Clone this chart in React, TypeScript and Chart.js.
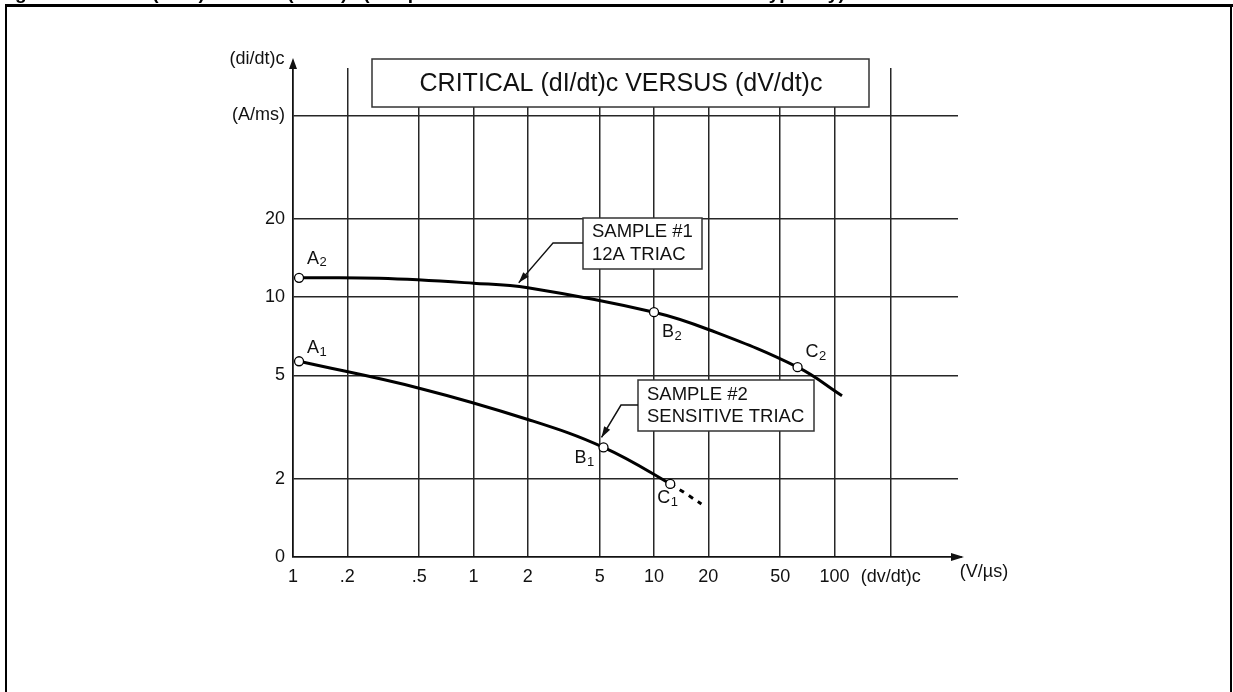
import React, { useEffect, useRef } from "react";
import { Chart, registerables } from "chart.js";
Chart.register(...registerables);

// ---- data ----
const xTickValues = [0.1, 0.2, 0.5, 1, 2, 5, 10, 20, 50, 100, 205];
const xTickLabels = ["1", ".2", ".5", "1", "2", "5", "10", "20", "50", "100", "(dv/dt)c"];
const yTickValues = [1, 2, 5, 10, 20, 50];
const yTickLabels = ["0", "2", "5", "10", "20", "(A/ms)"];

const sample1X = [0.108, 0.3, 1, 2, 10, 20, 62.4, 110];
const sample1Y = [11.85, 11.8, 11.3, 10.85, 8.74, 7.5, 5.37, 4.17];
const sample1Marks = [0, 4, 6];
const sample1MarkNames = [["A", "2"], ["B", "2"], ["C", "2"]];

// last point = dashed extrapolation beyond C1
const sample2X = [0.108, 0.5, 2, 5.25, 12.3, 18.3];
const sample2Y = [5.66, 4.46, 3.38, 2.64, 1.91, 1.6];
const sample2Marks = [0, 3, 4];
const sample2MarkNames = [["A", "1"], ["B", "1"], ["C", "1"]];

const chartTitle = "CRITICAL (dI/dt)c VERSUS (dV/dt)c";
const figureCaption = "Figure 9. Critical (dI/dt)c versus (dV/dt)c (sample test results on two different triacs - typically)";
const yAxisName = "(di/dt)c";
const xAxisUnit = "(V/µs)";
const sample1Box = ["SAMPLE #1", "12A TRIAC"];
const sample2Box = ["SAMPLE #2", "SENSITIVE TRIAC"];
const sample1Pointer = { x: 1.78, y: 10.95 };

const FONT = "'Liberation Sans', Arial, Helvetica, sans-serif";
const INK = "#111";
const GRID = "#262626";

function pts(xs: number[], ys: number[]) {
  return xs.map((x, i) => ({ x, y: ys[i] }));
}
function radii(n: number, marks: number[]) {
  return Array.from({ length: n }, (_, i) => (marks.includes(i) ? 4.5 : 0));
}

function drawSub(ctx: CanvasRenderingContext2D, main: string, sub: string, x: number, y: number) {
  ctx.font = `18px ${FONT}`;
  ctx.textAlign = "left";
  ctx.textBaseline = "middle";
  ctx.fillStyle = INK;
  ctx.fillText(main, x, y);
  const w = ctx.measureText(main).width;
  ctx.font = `13px ${FONT}`;
  ctx.fillText(sub, x + w + 0.5, y + 4);
}

function arrowHead(ctx: CanvasRenderingContext2D, fx: number, fy: number, tx: number, ty: number, len: number, hw: number) {
  const a = Math.atan2(ty - fy, tx - fx);
  ctx.beginPath();
  ctx.moveTo(tx, ty);
  ctx.lineTo(tx - len * Math.cos(a) + hw * Math.sin(a), ty - len * Math.sin(a) - hw * Math.cos(a));
  ctx.lineTo(tx - len * Math.cos(a) - hw * Math.sin(a), ty - len * Math.sin(a) + hw * Math.cos(a));
  ctx.closePath();
  ctx.fill();
}

function drawBox(ctx: CanvasRenderingContext2D, x: number, y: number, w: number, h: number, lines: string[], lineYs: number[]) {
  ctx.fillStyle = "#fff";
  ctx.fillRect(x, y, w, h);
  ctx.strokeStyle = "#333";
  ctx.lineWidth = 1.5;
  ctx.strokeRect(x, y, w, h);
  ctx.fillStyle = INK;
  ctx.font = `18.5px ${FONT}`;
  ctx.textAlign = "left";
  ctx.textBaseline = "middle";
  lines.forEach((t, i) => ctx.fillText(t, x + 9, y + lineYs[i]));
}

const decorPlugin = {
  id: "decor",
  afterDatasetsDraw(chart: any) {
    const ctx: CanvasRenderingContext2D = chart.ctx;
    const xs = chart.scales.x;
    const ys = chart.scales.y;
    const area = chart.chartArea;
    ctx.save();

    // frame + clipped caption
    ctx.fillStyle = "#000";
    ctx.font = `bold 19px ${FONT}`;
    ctx.textAlign = "left";
    ctx.textBaseline = "alphabetic";
    ctx.fillText(figureCaption, -2, -1);
    ctx.strokeStyle = "#000";
    ctx.lineWidth = 3;
    ctx.beginPath();
    ctx.moveTo(5, 5.5);
    ctx.lineTo(1233, 5.5);
    ctx.stroke();
    ctx.lineWidth = 2;
    ctx.beginPath();
    ctx.moveTo(6, 5);
    ctx.lineTo(6, 692);
    ctx.moveTo(1231, 5);
    ctx.lineTo(1231, 692);
    ctx.stroke();

    // axis arrows
    const x0 = xs.getPixelForValue(xTickValues[0]);
    const y0 = ys.getPixelForValue(yTickValues[0]);
    ctx.strokeStyle = INK;
    ctx.fillStyle = INK;
    ctx.lineWidth = 1.6;
    ctx.beginPath();
    ctx.moveTo(x0, area.top);
    ctx.lineTo(x0, area.top - 6);
    ctx.moveTo(area.right, y0);
    ctx.lineTo(area.right + 4, y0);
    ctx.stroke();
    arrowHead(ctx, x0, area.top, x0, area.top - 10, 11, 4);
    arrowHead(ctx, area.right, y0, area.right + 6, y0, 13, 4);

    ctx.font = `18px ${FONT}`;
    ctx.textAlign = "center";
    ctx.textBaseline = "middle";
    ctx.fillText(yAxisName, 257, 59);
    ctx.fillText(xAxisUnit, 984, 572);

    // title box
    ctx.fillStyle = "#fff";
    ctx.fillRect(372, 59, 497, 48);
    ctx.strokeStyle = "#333";
    ctx.lineWidth = 1.5;
    ctx.strokeRect(372, 59, 497, 48);
    ctx.fillStyle = INK;
    ctx.font = `25px ${FONT}`;
    ctx.textAlign = "center";
    ctx.textBaseline = "middle";
    ctx.fillText(chartTitle, 621, 84);

    // point labels
    const m1 = chart.getDatasetMeta(0).data;
    const m2 = chart.getDatasetMeta(1).data;
    const off1 = [[8, -19], [8, 20], [8, -15]];
    const off2 = [[8, -13], [-29, 11], [-13, 14]];
    sample1Marks.forEach((idx, i) => {
      const p = m1[idx];
      drawSub(ctx, sample1MarkNames[i][0], sample1MarkNames[i][1], p.x + off1[i][0], p.y + off1[i][1]);
    });
    sample2Marks.forEach((idx, i) => {
      const p = m2[idx];
      drawSub(ctx, sample2MarkNames[i][0], sample2MarkNames[i][1], p.x + off2[i][0], p.y + off2[i][1]);
    });

    // sample 1 callout
    drawBox(ctx, 583, 218, 119, 51, sample1Box, [13.5, 37]);
    const t1x = xs.getPixelForValue(sample1Pointer.x);
    const t1y = ys.getPixelForValue(sample1Pointer.y) - 4;
    ctx.strokeStyle = INK;
    ctx.fillStyle = INK;
    ctx.lineWidth = 1.3;
    ctx.beginPath();
    ctx.moveTo(583, 243);
    ctx.lineTo(553, 243);
    ctx.lineTo(t1x, t1y);
    ctx.stroke();
    arrowHead(ctx, 553, 243, t1x, t1y, 11, 3.5);

    // sample 2 callout
    drawBox(ctx, 638, 380, 176, 51, sample2Box, [15, 37]);
    const b1 = m2[sample2Marks[1]];
    const t2x = b1.x - 2;
    const t2y = b1.y - 10;
    ctx.strokeStyle = INK;
    ctx.fillStyle = INK;
    ctx.beginPath();
    ctx.moveTo(638, 405);
    ctx.lineTo(621, 405);
    ctx.lineTo(t2x, t2y);
    ctx.stroke();
    arrowHead(ctx, 621, 405, t2x, t2y, 11, 3.5);

    ctx.restore();
  },
};

export default function App() {
  const ref = useRef<HTMLCanvasElement | null>(null);
  useEffect(() => {
    if (!ref.current) return;
    const lastSeg = sample2X.length - 2;
    const chart = new Chart(ref.current, {
      type: "line",
      data: {
        datasets: [
          {
            label: "Sample #1 12A triac",
            data: pts(sample1X, sample1Y),
            borderColor: "#000",
            borderWidth: 3,
            tension: 0.4,
            pointRadius: radii(sample1X.length, sample1Marks),
            pointBackgroundColor: "#fff",
            pointBorderColor: "#000",
            pointBorderWidth: 1.3,
          },
          {
            label: "Sample #2 sensitive triac",
            data: pts(sample2X, sample2Y),
            borderColor: "#000",
            borderWidth: 3,
            tension: 0.4,
            segment: {
              borderDash: (c: any) => (c.p0DataIndex === lastSeg ? [5, 6] : undefined),
            },
            pointRadius: radii(sample2X.length, sample2Marks),
            pointBackgroundColor: "#fff",
            pointBorderColor: "#000",
            pointBorderWidth: 1.3,
          },
        ] as any,
      },
      options: {
        animation: false,
        responsive: true,
        maintainAspectRatio: false,
        layout: { padding: { left: 0, top: 68, right: 275, bottom: 0 } },
        plugins: { legend: { display: false }, tooltip: { enabled: false }, title: { display: false } },
        elements: { line: { borderCapStyle: "butt" } },
        scales: {
          x: {
            type: "logarithmic",
            min: 0.1,
            max: 483,
            afterBuildTicks: (s: any) => {
              s.ticks = xTickValues.map((v) => ({ value: v }));
            },
            afterFit: (s: any) => {
              s.height = 135;
            },
            grid: { color: GRID, lineWidth: 1.5, drawTicks: false },
            border: { display: true, color: INK, width: 1.6 },
            ticks: {
              autoSkip: false,
              maxRotation: 0,
              padding: 9,
              color: INK,
              font: { family: FONT, size: 18 },
              callback: (_v: any, i: number) => xTickLabels[i],
            },
          },
          y: {
            type: "logarithmic",
            min: 1,
            max: 76,
            afterBuildTicks: (s: any) => {
              s.ticks = yTickValues.map((v) => ({ value: v }));
            },
            afterFit: (s: any) => {
              s.width = 293;
            },
            grid: { color: GRID, lineWidth: 1.5, drawTicks: false },
            border: { display: true, color: INK, width: 1.6 },
            ticks: {
              autoSkip: false,
              padding: 8,
              color: INK,
              font: { family: FONT, size: 18 },
              callback: (_v: any, i: number) => yTickLabels[i],
            },
          },
        },
      } as any,
      plugins: [decorPlugin],
    });
    return () => chart.destroy();
  }, []);
  return (
    <div style={{ position: "absolute", left: 0, top: 0, width: 1233, height: 692, background: "#fff" }}>
      <canvas ref={ref} style={{ width: "100%", height: "100%" }} />
    </div>
  );
}
